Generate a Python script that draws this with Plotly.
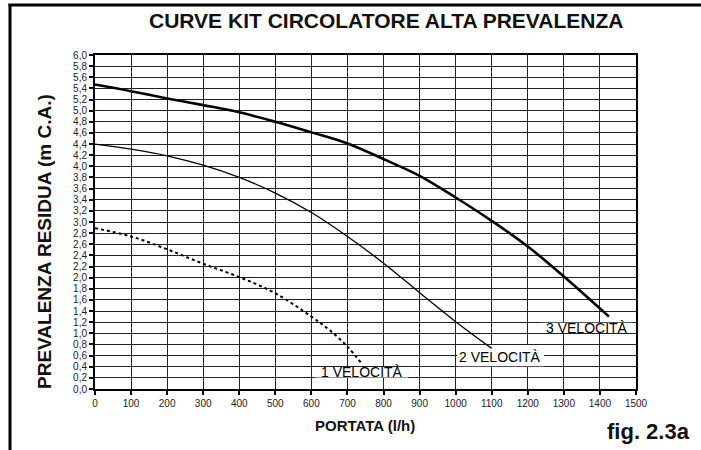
import plotly.graph_objects as go

# ---- data ----
x_v1 = [0, 100, 200, 300, 400, 500, 600, 650, 700, 740]
y_v1 = [2.89, 2.74, 2.51, 2.25, 2.01, 1.72, 1.30, 1.06, 0.76, 0.45]

x_v2 = [0, 100, 200, 300, 400, 500, 600, 700, 800, 900, 1000, 1100]
y_v2 = [4.40, 4.31, 4.19, 4.02, 3.80, 3.52, 3.17, 2.74, 2.26, 1.73, 1.21, 0.73]

x_v3 = [0, 100, 200, 300, 400, 500, 600, 700, 800, 900, 1000, 1100, 1200, 1300, 1425]
y_v3 = [5.47, 5.35, 5.22, 5.10, 4.97, 4.80, 4.61, 4.41, 4.13, 3.83, 3.44, 3.02, 2.56, 2.02, 1.30]

series_names = ["1 VELOCITÀ", "2 VELOCITÀ", "3 VELOCITÀ"]

x_ticks = list(range(0, 1501, 100))
y_tick_vals = [round(i * 0.2, 1) for i in range(31)]
y_tick_text = [f"{v:.1f}".replace(".", ",") for v in y_tick_vals]

title_text = "CURVE KIT CIRCOLATORE ALTA PREVALENZA"
x_title = "PORTATA (l/h)"
y_title = "PREVALENZA RESIDUA (m C.A.)"
fig_label = "fig. 2.3a"

FONT = "Arial, Liberation Sans, Helvetica, sans-serif"

W, H = 701, 450
L, R, T, B = 95, 65, 55, 61
PW, PH = W - L - R, H - T - B


def px_x(p):
    return (p - L) / PW


def px_y(p):
    return (H - B - p) / PH


fig = go.Figure()
fig.add_trace(go.Scatter(x=x_v1, y=y_v1, mode="lines", name=series_names[0],
                         line=dict(color="black", width=2, dash="dot", shape="spline")))
fig.add_trace(go.Scatter(x=x_v2, y=y_v2, mode="lines", name=series_names[1],
                         line=dict(color="black", width=1.3, shape="spline")))
fig.add_trace(go.Scatter(x=x_v3, y=y_v3, mode="lines", name=series_names[2],
                         line=dict(color="black", width=2.6, shape="spline")))

# white label boxes hiding vertical gridlines (between grid and traces)
label_boxes = [
    (610, 868, 0.205, 0.395),
    (1004, 1245, 0.41, 0.79),
    (1236, 1489, 1.01, 1.19),
]
for x0, x1, y0, y1 in label_boxes:
    fig.add_shape(type="rect", xref="x", yref="y", x0=x0, x1=x1, y0=y0, y1=y1,
                  fillcolor="white", line=dict(width=0), layer="between")

label_pos = [(740, 0.31), (1123, 0.57), (1364, 1.10)]
for name, (lx, ly) in zip(series_names, label_pos):
    fig.add_annotation(x=lx, y=ly, xref="x", yref="y", text=name, showarrow=False,
                       xanchor="center", yanchor="middle",
                       font=dict(family=FONT, size=14, color="black"))

# outer frame (left and top lines)
fig.add_shape(type="line", xref="paper", yref="paper",
              x0=px_x(10), x1=px_x(10), y0=px_y(4), y1=px_y(452),
              line=dict(color="black", width=3))
fig.add_shape(type="line", xref="paper", yref="paper",
              x0=px_x(8.5), x1=px_x(703), y0=px_y(5), y1=px_y(5),
              line=dict(color="black", width=3))


def text_note(txt, cx, cy, size, angle=0):
    fig.add_annotation(x=px_x(cx), y=px_y(cy), xref="paper", yref="paper",
                       text=f"<b>{txt}</b>", showarrow=False, textangle=angle,
                       xanchor="center", yanchor="middle",
                       font=dict(family=FONT, size=size, color="#111"))


text_note(title_text, 385.5, 21, 21)
text_note(x_title, 365, 425, 15)
text_note(y_title, 44, 242, 19, angle=-90)
text_note(fig_label, 648, 431, 22)

fig.update_xaxes(range=[0, 1500], tickvals=x_ticks, ticktext=[str(v) for v in x_ticks],
                 showgrid=True, gridcolor="#222", gridwidth=1,
                 showline=True, linecolor="black", linewidth=2, mirror=True,
                 ticks="outside", ticklen=4, tickcolor="black", tickwidth=1.5,
                 tickfont=dict(family=FONT, size=10, color="#222"), zeroline=False)
fig.update_yaxes(range=[0, 6], tickvals=y_tick_vals, ticktext=y_tick_text,
                 showgrid=True, gridcolor="#222", gridwidth=1,
                 showline=True, linecolor="black", linewidth=2, mirror=True,
                 ticks="outside", ticklen=4, tickcolor="black", tickwidth=1.5,
                 tickfont=dict(family=FONT, size=10, color="#222"), zeroline=False)

fig.update_layout(width=W, height=H, margin=dict(l=L, r=R, t=T, b=B),
                  paper_bgcolor="white", plot_bgcolor="white", showlegend=False)

fig.write_html("out.html", config={"displayModeBar": False},
               post_script="document.body.style.margin='0px';document.body.style.overflow='hidden';")
